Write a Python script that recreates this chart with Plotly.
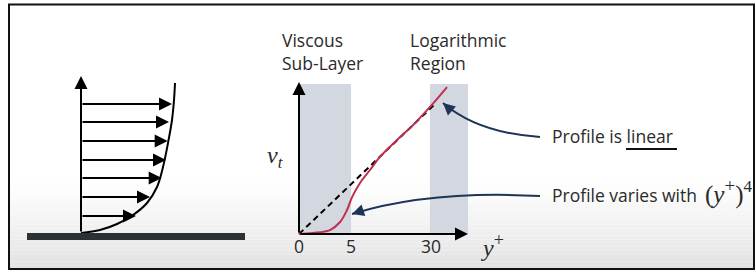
import plotly.graph_objects as go

W, H = 755, 271

# ---------------- data ----------------
# Left sketch: velocity profile u(h) above a wall (sketch units)
profile_h = [0, 3, 9, 18, 30, 46, 66, 90, 113, 133, 150]
profile_u = [0, 19, 36, 52, 66, 76, 82, 87, 91, 93, 94]
arrow_h = [129, 111, 92, 73, 55, 36, 17]
arrow_u = [91, 88, 86.7, 85, 80.7, 69, 55]
axis_top_h = 157
wall_u = [-54, 164]

# Middle chart: nu_t vs y+ (schematic units, 0..1)
yplus_s = [0, 0.083, 0.183, 0.243, 0.284, 0.314, 0.361, 0.420, 0.479, 0.580, 0.675, 0.775, 0.876]
nut_v = [0, 0.007, 0.026, 0.079, 0.158, 0.243, 0.336, 0.421, 0.507, 0.618, 0.717, 0.836, 0.967]
linear_s = [0, 0.80]
linear_v = [0, 0.85]
tick_pos = [0, 0.308, 0.78]
tick_labels = ["0", "5", "30"]
viscous_band = [0, 0.308]
log_band = [0.775, 1.0]
band_top = 0.987

SANS = "Open Sans"
SERIF = "Liberation Serif"
TXT = "#2a2a2a"
NAVY = "#1c3557"
FS = 17.5

def px(x):
    return x / W

def py(y):
    return 1 - y / H

fig = go.Figure()

# left sketch axes: 1 unit = 1 px, origin at (81, 233)
fig.update_layout(
    xaxis=dict(domain=[0, 0.35], range=[-81, 0.35 * W - 81], visible=False, fixedrange=True),
    yaxis=dict(domain=[0, 1], range=[233 - H, 233], visible=False, fixedrange=True),
)
# middle chart axes: s=0 -> px 299, s=1 -> px 468 ; v=0 -> py 234, v=1 -> py 82
sx, sy = 169.0, 152.0
x0p = 299 - 0.2 * sx
x1p = W
y_bot_p = 234 + 0.2 * sy
y_top_p = 82 - 0.2 * sy
fig.update_layout(
    xaxis2=dict(domain=[x0p / W, 1.0], range=[-0.2, (x1p - 299) / sx], visible=False,
                anchor="y2", fixedrange=True),
    yaxis2=dict(domain=[py(y_bot_p), py(y_top_p)], range=[-0.2, 1.2], visible=False,
                anchor="x2", fixedrange=True),
)

shapes = []
# background gradient at bottom
n = 24
for i in range(n):
    y0 = 180 + i * (269 - 180) / n
    y1 = 180 + (i + 1) * (269 - 180) / n
    g = int(255 - (255 - 226) * ((i + 0.5) / n) ** 1.2)
    shapes.append(dict(type="rect", xref="paper", yref="paper", x0=px(9), x1=px(755),
                       y0=py(y1), y1=py(y0), fillcolor=f"rgb({g},{g},{g})",
                       line=dict(width=0), layer="below"))
# frame
shapes.append(dict(type="rect", xref="paper", yref="paper", x0=px(9), x1=px(754),
                   y0=py(269), y1=py(4.5), line=dict(color="#111", width=2),
                   fillcolor="rgba(0,0,0,0)", layer="above"))
# wall
shapes.append(dict(type="rect", xref="x", yref="y", x0=wall_u[0], x1=wall_u[1], y0=-7, y1=0,
                   fillcolor="#2c3035", line=dict(width=0)))
# bands
for b in (viscous_band, log_band):
    shapes.append(dict(type="rect", xref="x2", yref="y2", x0=b[0], x1=b[1], y0=0, y1=band_top,
                       fillcolor="#d3d8e0", line=dict(width=0), layer="below"))

# curved callout arrows (in chart units)
def s_of(p):
    return (p - 299) / sx

def v_of(p):
    return (234 - p) / sy

callouts = [
    ((540, 137), (478, 133), (443, 103)),
    ((540, 196), (430, 190), (352, 214)),
]
for (a, c, b) in callouts:
    path = (f"M {s_of(a[0])},{v_of(a[1])} Q {s_of(c[0])},{v_of(c[1])} "
            f"{s_of(b[0])},{v_of(b[1])}")
    shapes.append(dict(type="path", xref="x2", yref="y2", path=path,
                       line=dict(color=NAVY, width=2)))
# underline for 'linear'
shapes.append(dict(type="line", xref="paper", yref="paper", x0=px(626), x1=px(677),
                   y0=py(149), y1=py(149), line=dict(color="#111", width=2)))

fig.update_layout(shapes=shapes)

# traces
fig.add_trace(go.Scatter(x=profile_u, y=profile_h, mode="lines", line=dict(color="black", width=2, shape="spline"),
                         xaxis="x", yaxis="y", hoverinfo="skip"))
fig.add_trace(go.Scatter(x=linear_s, y=linear_v, mode="lines",
                         line=dict(color="black", width=2, dash="6px,4px"),
                         xaxis="x2", yaxis="y2", hoverinfo="skip"))
fig.add_trace(go.Scatter(x=yplus_s, y=nut_v, mode="lines",
                         line=dict(color="#c0304e", width=2, shape="spline"),
                         xaxis="x2", yaxis="y2", hoverinfo="skip"))

ann = []
# left sketch arrows
ann.append(dict(x=0, y=axis_top_h, ax=0, ay=0, xref="x", yref="y", axref="x", ayref="y",
                showarrow=True, arrowhead=2, arrowsize=1.3, arrowwidth=2, arrowcolor="black", text=""))
for h, u in zip(arrow_h, arrow_u):
    ann.append(dict(x=u, y=h, ax=0, ay=h, xref="x", yref="y", axref="x", ayref="y",
                    showarrow=True, arrowhead=2, arrowsize=1.3, arrowwidth=2, arrowcolor="black", text=""))
# chart axes arrows
ann.append(dict(x=0, y=1.0, ax=0, ay=0, xref="x2", yref="y2", axref="x2", ayref="y2",
                showarrow=True, arrowhead=2, arrowsize=1.3, arrowwidth=2, arrowcolor="black", text=""))
ann.append(dict(x=1.0, y=0, ax=0, ay=0, xref="x2", yref="y2", axref="x2", ayref="y2",
                showarrow=True, arrowhead=2, arrowsize=1.3, arrowwidth=2, arrowcolor="black", text=""))
# callout arrowheads
ann.append(dict(x=s_of(443), y=v_of(103), ax=10, ay=9, xref="x2", yref="y2",
                showarrow=True, arrowhead=2, arrowsize=1.2, arrowwidth=2, arrowcolor=NAVY, text=""))
ann.append(dict(x=s_of(352), y=v_of(214), ax=12, ay=-4, xref="x2", yref="y2",
                showarrow=True, arrowhead=2, arrowsize=1.2, arrowwidth=2, arrowcolor=NAVY, text=""))
# tick labels
for t, lab in zip(tick_pos, tick_labels):
    ann.append(dict(x=t, y=py(246), xref="x2", yref="paper", text=lab, showarrow=False,
                    font=dict(family=SANS, size=FS, color=TXT), xanchor="center", yanchor="middle"))
ann.append(dict(x=px(479), y=py(245), xref="paper", yref="paper",
                text="<i>y</i><sup><span style='font-size:18px'>+</span></sup>",
                showarrow=False, font=dict(family=SERIF, size=24, color=TXT), xanchor="left", yanchor="middle"))
ann.append(dict(x=px(265), y=py(157), xref="paper", yref="paper", text="<i>ν</i><sub><i>t</i></sub>",
                showarrow=False, font=dict(family=SERIF, size=24, color=TXT), xanchor="left", yanchor="middle"))
# region labels
ann.append(dict(x=px(280), y=py(51), xref="paper", yref="paper", text="Viscous<br>Sub-Layer",
                showarrow=False, align="left", font=dict(family=SANS, size=FS, color=TXT),
                xanchor="left", yanchor="middle"))
ann.append(dict(x=px(408), y=py(51), xref="paper", yref="paper", text="Logarithmic<br>Region",
                showarrow=False, align="left", font=dict(family=SANS, size=FS, color=TXT),
                xanchor="left", yanchor="middle"))
# callout texts
ann.append(dict(x=px(550), y=py(136), xref="paper", yref="paper", text="Profile is linear",
                showarrow=False, font=dict(family=SANS, size=FS, color=TXT), xanchor="left", yanchor="middle"))
ann.append(dict(x=px(550), y=py(195), xref="paper", yref="paper", text="Profile varies with",
                showarrow=False, font=dict(family=SANS, size=FS, color=TXT), xanchor="left", yanchor="middle"))
ann.append(dict(x=px(703), y=py(192), xref="paper", yref="paper",
                text="(<i>y</i><sup><span style='font-size:19px'>+</span></sup>)<sup><span style='font-size:17px'>4</span></sup>",
                showarrow=False, font=dict(family=SERIF, size=25, color=TXT), xanchor="left", yanchor="middle"))

fig.update_layout(annotations=ann, width=W, height=H, margin=dict(l=0, r=0, t=0, b=0),
                  paper_bgcolor="white", plot_bgcolor="rgba(0,0,0,0)", showlegend=False)

fig.write_html("out.html", config={"displayModeBar": False},
               post_script="document.body.style.margin='0';document.body.style.overflow='hidden';")
